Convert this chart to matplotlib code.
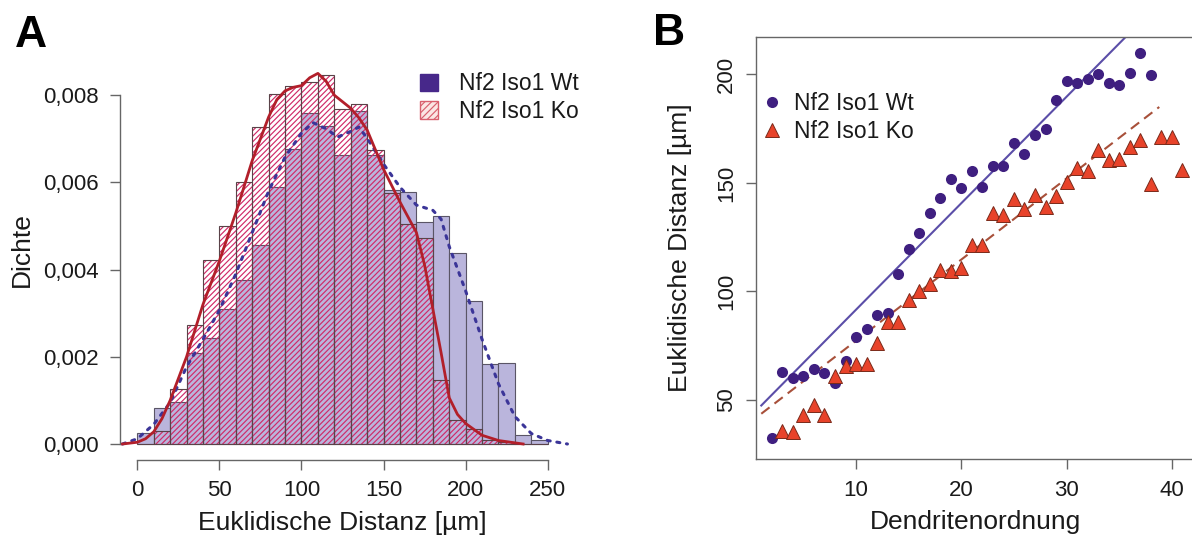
"""Two panel figure: distance histogram (A) and distance vs dendrite order (B)."""

import matplotlib
import matplotlib.pyplot as plt
from matplotlib.patches import Patch
from matplotlib.lines import Line2D
from matplotlib.ticker import FuncFormatter

matplotlib.use("agg")

plt.rcParams["font.family"] = ["Liberation Sans", "DejaVu Sans"]
plt.rcParams["hatch.linewidth"] = 0.85

# panel A: histogram, bins of 10 um from 0 to 250
bin_left = list(range(0, 250, 10))
dens_wt = [0.00026, 0.00083, 0.00097, 0.00209, 0.00244, 0.00309, 0.00376,
           0.00457, 0.00589, 0.00677, 0.00758, 0.00729, 0.00662, 0.00764,
           0.00662, 0.00583, 0.00577, 0.00510, 0.00522, 0.00439, 0.00327,
           0.00184, 0.00185, 0.00020, 0.00010]
dens_ko = [0.0, 0.00030, 0.00125, 0.00273, 0.00423, 0.00500, 0.00601,
           0.00727, 0.00803, 0.00821, 0.00831, 0.00846, 0.00768, 0.00779,
           0.00675, 0.00575, 0.00504, 0.00473, 0.00146, 0.00055, 0.00034,
           0.00010, 0.00004, 0.0, 0.0]

# density curves
kde_wt_x = [-9, 0, 10, 20, 30, 40, 50, 60, 70, 80, 90, 100, 107, 115, 122,
            130, 135, 140, 150, 160, 170, 180, 185, 190, 200, 210, 220, 230,
            240, 250, 262]
kde_wt_y = [0.0, 0.00012, 0.00045, 0.00095, 0.00177, 0.00240, 0.00307,
            0.00390, 0.00485, 0.00580, 0.00658, 0.00713, 0.00737, 0.00723,
            0.00704, 0.00717, 0.00727, 0.00701, 0.00642, 0.00589, 0.00548,
            0.00536, 0.00516, 0.00453, 0.00351, 0.00240, 0.00138, 0.00063,
            0.00024, 0.00008, 0.0]
kde_ko_x = [-9, 0, 5, 10, 15, 20, 30, 40, 50, 60, 70, 80, 85, 90, 95, 100,
            105, 110, 115, 120, 125, 130, 135, 140, 150, 160, 170, 175, 180,
            185, 190, 195, 200, 210, 220, 235]
kde_ko_y = [0.0, 0.00004, 0.00012, 0.00028, 0.00058, 0.00100, 0.00200,
            0.00320, 0.00420, 0.00530, 0.00650, 0.00750, 0.00790, 0.00810,
            0.00818, 0.00822, 0.00840, 0.00850, 0.00832, 0.00800, 0.00785,
            0.00770, 0.00748, 0.00720, 0.00630, 0.00555, 0.00485, 0.00410,
            0.00310, 0.00210, 0.00106, 0.00068, 0.00047, 0.00020, 0.00008,
            0.0]

# panel B: mean distance per dendrite order
order_wt = list(range(2, 39))
dist_wt = [32.6, 63.0, 60.3, 61.1, 64.3, 62.4, 57.9, 67.8, 79.2, 82.5, 89.1,
           90.1, 107.8, 119.4, 127.1, 136.3, 143.1, 151.9, 147.6, 155.3,
           148.2, 158.0, 157.7, 168.6, 163.3, 172.0, 174.7, 188.3, 196.8,
           196.2, 197.9, 200.0, 196.0, 195.1, 200.8, 210.0, 199.7]
order_ko = list(range(3, 42))
dist_ko = [35.5, 35.0, 43.2, 47.6, 42.9, 61.1, 65.4, 66.6, 66.6, 76.1, 86.0,
           86.0, 95.8, 100.4, 103.4, 109.7, 109.4, 110.7, 121.3, 121.3, 136.0,
           135.2, 142.7, 137.9, 144.3, 139.0, 143.9, 150.6, 156.9, 155.7,
           165.2, 160.4, 161.2, 166.7, 169.6, 149.5, 171.2, 171.2, 156.1]

# regression lines (end points)
fit_wt_x = [1.0, 36.0]
fit_wt_y = [47.4, 219.2]
fit_ko_x = [1.0, 38.8]
fit_ko_y = [43.6, 185.0]

labels = ["Nf2 Iso1 Wt", "Nf2 Iso1 Ko"]

W, H = 1192, 538
fig = plt.figure(figsize=(W / 100, H / 100), dpi=100)

axis_grey = "#666666"
text_col = "#1a1a1a"
hatch_red = "#d02a68"


def fig_rect(left, top, right, bottom):
    # pixel box -> figure fraction
    return [left / W, 1 - bottom / H, (right - left) / W, (bottom - top) / H]


# ---------------- panel A ----------------
ax = fig.add_axes(fig_rect(120, 60, 575, 460))
ax.bar(bin_left, dens_wt, width=10, align="edge", color="#bab5dc",
       edgecolor="#5a5566", linewidth=0.8, zorder=1)
ax.bar(bin_left, dens_ko, width=10, align="edge", facecolor="none",
       edgecolor=hatch_red, hatch="//////", linewidth=0, zorder=2)
ax.bar(bin_left, dens_ko, width=10, align="edge", facecolor="none",
       edgecolor="#5a4248", linewidth=0.8, zorder=3)
ax.plot(kde_wt_x, kde_wt_y, color="#3b3598", lw=2.2,
        linestyle=(0, (1, 2.2)), dash_capstyle="round", zorder=4)
ax.plot(kde_ko_x, kde_ko_y, color="#b21f2a", lw=2.0, zorder=5)

ax.set_xlim(-10.54, 266.6)
ax.set_ylim(-0.000367, 0.008807)
for side in ["top", "right"]:
    ax.spines[side].set_visible(False)
ax.spines["left"].set_bounds(0, 0.008)
ax.spines["bottom"].set_bounds(0, 250)
for side in ["left", "bottom"]:
    ax.spines[side].set_color(axis_grey)
    ax.spines[side].set_linewidth(1.0)
ax.set_xticks([0, 50, 100, 150, 200, 250])
ax.set_yticks([0, 0.002, 0.004, 0.006, 0.008])
ax.yaxis.set_major_formatter(FuncFormatter(lambda v, p: f"{v:.3f}".replace(".", ",")))
ax.tick_params(colors=axis_grey, labelcolor=text_col, labelsize=16,
               length=7.2, width=1.0)
ax.tick_params(axis="y", pad=8)
ax.tick_params(axis="x", pad=7)
ax.set_xlabel("Euklidische Distanz [µm]", fontsize=19, color=text_col)
ax.xaxis.label.set_va("center")
ax.xaxis.set_label_coords((342.5 - 120) / 455, -(523 - 460) / 400)
ax.set_ylabel("Dichte", fontsize=19, color=text_col)
ax.yaxis.label.set_va("center")
ax.yaxis.set_label_coords(-(120 - 22) / 455, (460 - 250) / 400)

handles_a = [
    Patch(facecolor="#47288a", edgecolor="#47288a"),
    Patch(facecolor="#fbe6e4", edgecolor="#d8606e", hatch="/////"),
]
ax.legend(handles_a, labels, loc="upper left", frameon=False, fontsize=16.5,
          bbox_to_anchor=(420 / W, 1 - 72.5 / H), bbox_transform=fig.transFigure,
          borderpad=0, borderaxespad=0, handlelength=0.8, handleheight=0.8,
          handletextpad=0.9, labelspacing=0.2, labelcolor=text_col)

# ---------------- panel B ----------------
bx = fig.add_axes(fig_rect(755.7, 36.7, 1209.8, 459.3))
bx.plot(fit_wt_x, fit_wt_y, color="#5b4ea8", lw=1.5, zorder=2)
bx.plot(fit_ko_x, fit_ko_y, color="#a8503a", lw=1.5, linestyle=(0, (5, 3)),
        zorder=2)
bx.plot(order_wt, dist_wt, "o", color="#3f1f80", markersize=8,
        markeredgewidth=0, zorder=3)
bx.plot(order_ko, dist_ko, "^", markerfacecolor="#e8432a",
        markeredgecolor="#7a2a1a", markeredgewidth=0.7, markersize=9.5, zorder=3)

bx.set_xlim(0.47, 43.6)
bx.set_ylim(22.6, 217.4)
for side in bx.spines:
    bx.spines[side].set_color(axis_grey)
    bx.spines[side].set_linewidth(1.0)
bx.set_xticks([10, 20, 30, 40])
bx.set_yticks([50, 100, 150, 200])
bx.tick_params(colors=axis_grey, labelcolor=text_col, labelsize=16,
               length=7.2, width=1.0)
bx.tick_params(axis="x", pad=8)
bx.tick_params(axis="y", pad=6)
for lab in bx.get_yticklabels():
    lab.set_rotation(90)
    lab.set_va("center")
bx.set_xlabel("Dendritenordnung", fontsize=19, color=text_col)
bx.xaxis.label.set_va("center")
bx.xaxis.set_label_coords((976 - 755.7) / 454.1, -(521.7 - 459.3) / 422.6)
bx.set_ylabel("Euklidische Distanz [µm]", fontsize=19, color=text_col)
bx.yaxis.label.set_va("center")
bx.yaxis.set_label_coords(-(755.7 - 680) / 454.1, 0.5)

handles_b = [
    Line2D([], [], marker="o", linestyle="none", color="#3f1f80",
           markersize=8, markeredgewidth=0),
    Line2D([], [], marker="^", linestyle="none", markerfacecolor="#e8432a",
           markeredgecolor="#7a2a1a", markeredgewidth=0.7, markersize=9.5),
]
bx.legend(handles_b, labels, loc="upper left", frameon=False, fontsize=16.5,
          bbox_to_anchor=(762.7 / W, 1 - 92 / H), bbox_transform=fig.transFigure,
          borderpad=0, borderaxespad=0, handlelength=0.8, handletextpad=0.55,
          labelspacing=0.2, labelcolor=text_col)

# panel letters
fig.text(15 / W, 1 - 47 / H, "A", fontsize=32, fontweight="bold", va="baseline")
fig.text(653 / W, 1 - 45 / H, "B", fontsize=32, fontweight="bold", va="baseline")

fig.savefig("out.png", dpi=100)
plt.close(fig)
